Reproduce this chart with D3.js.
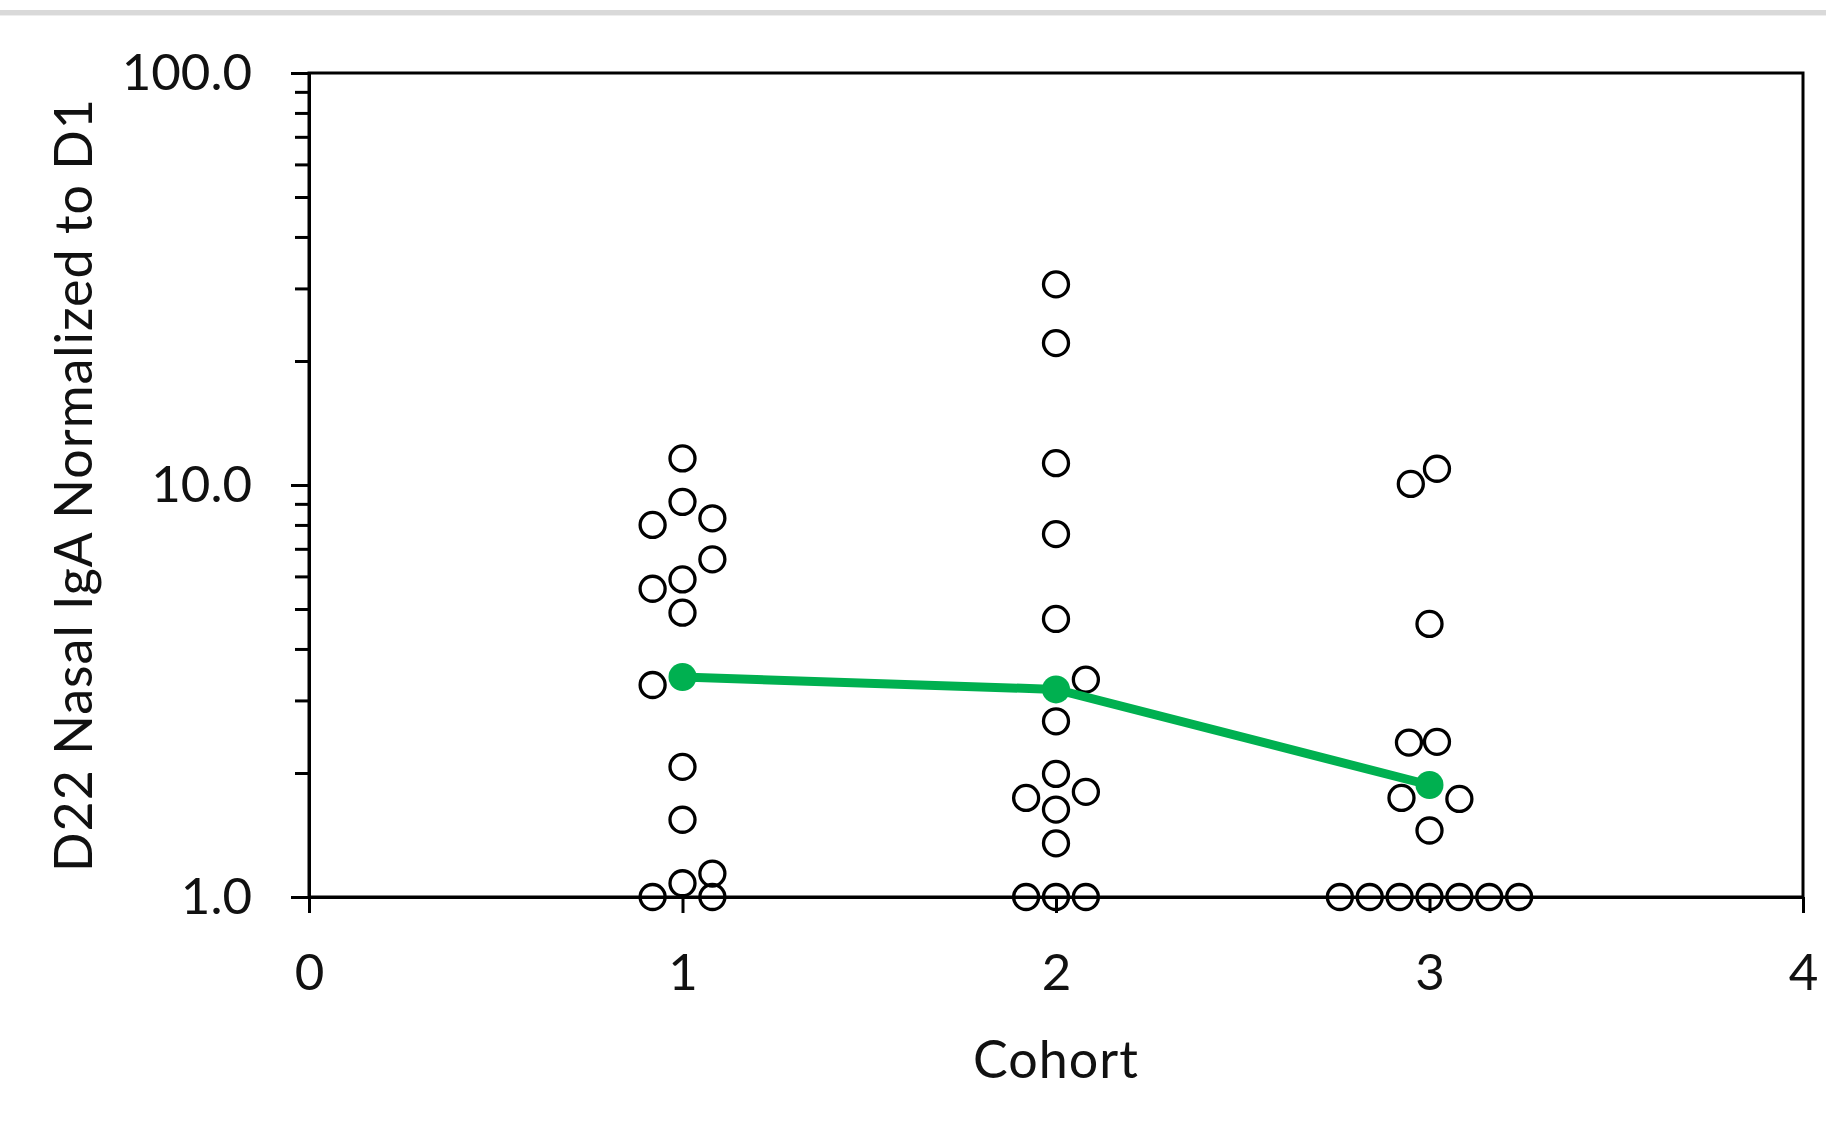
<!DOCTYPE html>
<html>
<head>
<meta charset="utf-8">
<script src="https://cdnjs.cloudflare.com/ajax/libs/d3/7.8.5/d3.min.js"></script>
<style>
  body { margin: 0; background: #fff; }
  svg { display: block; font-family: Lato, 'Open Sans', sans-serif; }
</style>
</head>
<body>
<div class="container"></div>
<script>
// Values
const xTicks = [0, 1, 2, 3, 4];
const yMajorTicks = [1, 10, 100];
const yMinorTicks = [2, 3, 4, 5, 6, 7, 8, 9, 20, 30, 40, 50, 60, 70, 80, 90];

const meanX = [1, 2, 3];
const geoMeans = [3.42, 3.19, 1.87];

// cohort 1 (x is cohort number plus a small jitter)
const cohort1X = [1, 1, 0.92, 1.08, 1.08, 1, 0.92, 1, 0.92, 1, 1, 1, 1.08, 0.92, 1.08];
const cohort1Y = [11.6, 9.1, 8.0, 8.3, 6.6, 5.9, 5.6, 4.9, 3.27, 2.07, 1.54, 1.08, 1.14, 1.0, 1.0];

// cohort 2
const cohort2X = [2, 2, 2, 2, 2, 2.08, 2, 2, 1.92, 2.08, 2, 2, 1.92, 2, 2.08];
const cohort2Y = [30.7, 22.1, 11.3, 7.6, 4.73, 3.37, 2.67, 1.99, 1.74, 1.8, 1.63, 1.35, 1.0, 1.0, 1.0];

// cohort 3
const cohort3X = [2.95, 3.02, 3, 2.945, 3.02, 2.925, 3.08, 3, 2.76, 2.84, 2.92, 3, 3.08, 3.16, 3.24];
const cohort3Y = [10.06, 10.95, 4.6, 2.37, 2.38, 1.74, 1.73, 1.45, 1, 1, 1, 1, 1, 1, 1];

// Sizes
const width = 1826;
const height = 1133;
const plotLeft = 309, plotRight = 1803, plotTop = 73, plotBottom = 897;

const svg = d3.select('.container')
  .append('svg')
  .attr('width', width)
  .attr('height', height);

// grey strip at the very top
svg.append('rect')
  .attr('x', 0).attr('y', 10)
  .attr('width', width).attr('height', 5)
  .attr('fill', '#d9d9d9');
svg.append('rect')
  .attr('x', 0).attr('y', 15)
  .attr('width', width).attr('height', 1)
  .attr('fill', '#eeeeee');

// Scales
const xScale = d3.scaleLinear().domain([0, 4]).range([plotLeft, plotRight]);
const yScale = d3.scaleLog().domain([1, 100]).range([plotBottom, plotTop]);

// plot box (top and right borders)
svg.append('rect')
  .attr('x', plotLeft).attr('y', plotTop)
  .attr('width', plotRight - plotLeft).attr('height', plotBottom - plotTop)
  .attr('fill', 'none')
  .attr('stroke', '#000')
  .attr('stroke-width', 3);

// y minor ticks
svg.append('g')
  .attr('transform', `translate(${plotLeft}, 0)`)
  .call(d3.axisLeft(yScale).tickValues(yMinorTicks).tickSize(14).tickSizeOuter(0).tickFormat(''))
  .call(g => g.select('.domain').remove())
  .call(g => g.selectAll('line').attr('stroke', '#000').attr('stroke-width', 3));

// y major axis
svg.append('g')
  .attr('id', 'y-axis')
  .attr('transform', `translate(${plotLeft}, 0)`)
  .call(d3.axisLeft(yScale).tickValues(yMajorTicks).tickSize(18).tickSizeOuter(0).tickPadding(39)
    .tickFormat(d3.format('.1f')))
  .call(g => g.select('.domain').attr('stroke', '#000').attr('stroke-width', 3))
  .call(g => g.selectAll('line').attr('stroke', '#000').attr('stroke-width', 3))
  .call(g => g.selectAll('text')
    .attr('font-size', 51)
    .attr('font-family', 'Lato, sans-serif')
    .attr('fill', '#111'));

// x axis
svg.append('g')
  .attr('id', 'x-axis')
  .attr('transform', `translate(0, ${plotBottom})`)
  .call(d3.axisBottom(xScale).tickValues(xTicks).tickSize(16).tickSizeOuter(0).tickFormat(d3.format('d')))
  .call(g => g.select('.domain').attr('stroke', '#000').attr('stroke-width', 3))
  .call(g => g.selectAll('line').attr('stroke', '#000').attr('stroke-width', 3))
  .call(g => g.selectAll('text')
    .attr('y', 93)
    .attr('dy', 0)
    .attr('font-size', 51)
    .attr('font-family', 'Lato, sans-serif')
    .attr('fill', '#111'));

// Axis titles
svg.append('text')
  .text('D22 Nasal IgA Normalized to D1')
  .attr('transform', `translate(92, ${(plotTop + plotBottom) / 2}) rotate(-90)`)
  .attr('text-anchor', 'middle')
  .attr('font-size', 52)
  .attr('letter-spacing', 1)
  .attr('fill', '#111');

svg.append('text')
  .text('Cohort')
  .attr('x', (plotLeft + plotRight) / 2)
  .attr('y', 1078)
  .attr('text-anchor', 'middle')
  .attr('font-size', 52)
  .attr('letter-spacing', 1)
  .attr('fill', '#111');

// Open circles for every sample
const points = [];
[[cohort1X, cohort1Y], [cohort2X, cohort2Y], [cohort3X, cohort3Y]].forEach(([xs, ys]) => {
  xs.forEach((x, i) => points.push([x, ys[i]]));
});

svg.append('g')
  .selectAll('circle')
  .data(points)
  .enter()
  .append('circle')
  .attr('cx', d => xScale(d[0]))
  .attr('cy', d => yScale(d[1]))
  .attr('r', 12.5)
  .attr('fill', 'none')
  .attr('stroke', '#000')
  .attr('stroke-width', 3.3);

// Green mean line and dots
const means = meanX.map((x, i) => [x, geoMeans[i]]);

svg.append('path')
  .datum(means)
  .attr('d', d3.line().x(d => xScale(d[0])).y(d => yScale(d[1])))
  .attr('fill', 'none')
  .attr('stroke', '#00b050')
  .attr('stroke-width', 9);

svg.append('g')
  .selectAll('circle')
  .data(means)
  .enter()
  .append('circle')
  .attr('cx', d => xScale(d[0]))
  .attr('cy', d => yScale(d[1]))
  .attr('r', 14)
  .attr('fill', '#00b050');
</script>
</body>
</html>
